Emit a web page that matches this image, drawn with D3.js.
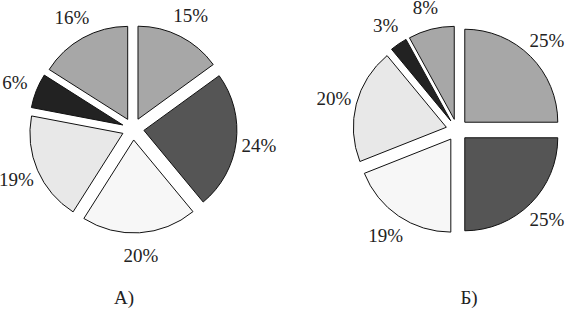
<!DOCTYPE html>
<html>
<head>
<meta charset="utf-8">
<script src="https://cdn.jsdelivr.net/npm/d3@7"></script>
<style>
  body { margin: 0; background: #fff; }
  svg { display: block; }
  text { font-family: 'Liberation Serif', 'Times New Roman', Times, serif; font-size: 19px; fill: #222; }
</style>
</head>
<body>
<svg id="chart" width="577" height="317"></svg>
<script>
// shares, clockwise from 12 o'clock
const sharesA = [15, 24, 20, 19, 6, 16];
const sharesB = [25, 25, 19, 20, 3, 8];
const fillsA = ['#a7a7a7', '#555555', '#f7f7f7', '#e8e8e8', '#222222', '#a7a7a7'];
const fillsB = ['#a7a7a7', '#555555', '#f7f7f7', '#e8e8e8', '#222222', '#a7a7a7'];
const captions = ['А)', 'Б)'];

const svg = d3.select('#chart');
const radius = 93;
const explode = 11;
const labelRadius = 127;

const pies = [
  { values: sharesA, fills: fillsA, cx: 133, cy: 129, caption: captions[0], capX: 124 },
  { values: sharesB, fills: fillsB, cx: 457, cy: 130, caption: captions[1], capX: 469 }
];

const pie = d3.pie().sort(null).value(d => d);
const arc = d3.arc().innerRadius(0).outerRadius(radius);
const labelArc = d3.arc().innerRadius(labelRadius).outerRadius(labelRadius);

pies.forEach(p => {
  const g = svg.append('g').attr('transform', `translate(${p.cx},${p.cy})`);
  const arcs = pie(p.values);

  g.selectAll('path')
    .data(arcs)
    .enter().append('path')
    .attr('d', arc)
    .attr('transform', d => {
      const a = (d.startAngle + d.endAngle) / 2;
      return `translate(${explode * Math.sin(a)},${-explode * Math.cos(a)})`;
    })
    .attr('fill', (d, i) => p.fills[i])
    .attr('stroke', '#111')
    .attr('stroke-width', 1);

  g.selectAll('text')
    .data(arcs)
    .enter().append('text')
    .attr('transform', d => `translate(${labelArc.centroid(d)})`)
    .attr('text-anchor', 'middle')
    .attr('dy', '0.35em')
    .text(d => d.data + '%');

  svg.append('text')
    .attr('x', p.capX)
    .attr('y', 304)
    .attr('text-anchor', 'middle')
    .text(p.caption);
});
</script>
</body>
</html>
